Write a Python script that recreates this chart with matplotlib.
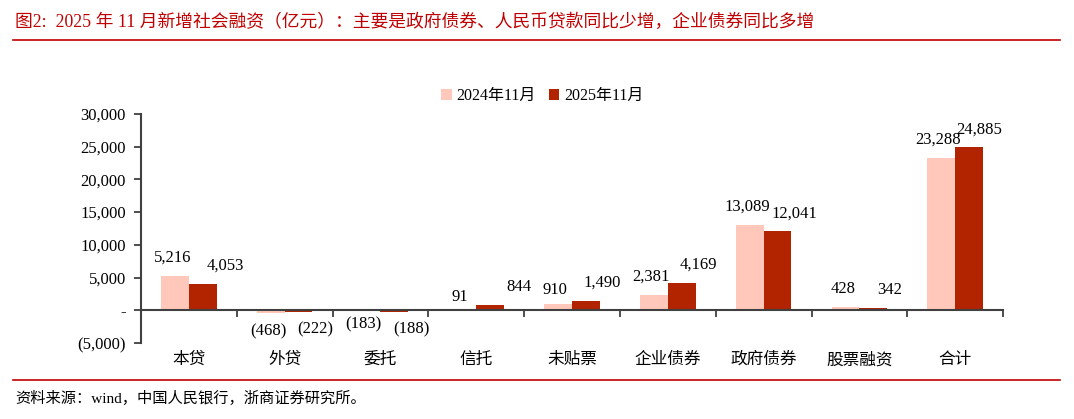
import matplotlib
matplotlib.use("Agg")
import matplotlib.pyplot as plt
import numpy as np
from matplotlib.lines import Line2D
from matplotlib.ticker import FuncFormatter

plt.rcParams['font.family'] = ['Liberation Serif', 'Noto Sans CJK SC', 'DejaVu Sans']
plt.rcParams['axes.unicode_minus'] = False

# data (亿元)
categories = ["本贷", "外贷", "委托", "信托", "未贴票", "企业债券", "政府债券", "股票融资", "合计"]
series_names = ["2024年11月", "2025年11月"]
values_2024 = [5216, -468, -183, 91, 910, 2381, 13089, 428, 23288]
values_2025 = [4053, -222, -188, 844, 1490, 4169, 12041, 342, 24885]

title = "图2:  2025 年 11 月新增社会融资（亿元）：主要是政府债券、人民币贷款同比少增，企业债券同比多增"
source = "资料来源：wind，中国人民银行，浙商证券研究所。"

c_light = "#FFC8BA"
c_dark = "#B22400"
c_red = "#C00000"
axis_col = "#404040"

fig = plt.figure(figsize=(10.74, 4.19), dpi=100)
ax = fig.add_axes([0.1313, 0.1814, 0.8027, 0.5466])

x = np.arange(len(categories))
w = 0.29
b1 = ax.bar(x - w / 2, values_2024, w, color=c_light, label=series_names[0])
b2 = ax.bar(x + w / 2, values_2025, w, color=c_dark, label=series_names[1])

ax.set_xlim(-0.5, len(categories) - 0.5)
ax.set_ylim(-5000, 30000)
ax.set_yticks(np.arange(-5000, 30001, 5000))


def fmt(v, pos=None):
    if v == 0:
        return "-"
    if v < 0:
        return "({:,.0f})".format(-v)
    return "{:,.0f}".format(v)


ax.yaxis.set_major_formatter(FuncFormatter(fmt))
ax.tick_params(axis='y', direction='out', length=5, width=1.3, color=axis_col,
               labelsize=12, pad=6)

# x axis at zero, ticks at category boundaries
for s in ['top', 'right']:
    ax.spines[s].set_visible(False)
ax.spines['bottom'].set_position(('data', 0))
ax.spines['bottom'].set_color(axis_col)
ax.spines['bottom'].set_linewidth(1.5)
ax.spines['left'].set_color(axis_col)
ax.spines['left'].set_linewidth(1.5)
ax.set_xticks(np.arange(0.5, len(categories), 1.0))
ax.set_xticklabels([])
ax.tick_params(axis='x', direction='out', length=5, width=1.3, color=axis_col)

for i, cat in enumerate(categories):
    ax.text(i, -0.075, cat, transform=ax.get_xaxis_transform(), ha='center',
            va='center', fontsize=12)

# data labels: dark labels sit to the right of their bars, as in the source chart
extra_dy = {(0, 2): 4, (0, 3): -4, (0, 4): -3}
extra_dx = {(1, 0): 4, (1, 3): 9, (1, 8): -5}
for k, (bars, vals) in enumerate([(b1, values_2024), (b2, values_2025)]):
    dx = -2 if k == 0 else 12
    for i, (bar, v) in enumerate(zip(bars, vals)):
        cx = bar.get_x() + bar.get_width() / 2
        dy = 13 if v >= 0 else -13
        dy += extra_dy.get((k, i), 0)
        ax.annotate(fmt(v), (cx, v), xytext=(dx + extra_dx.get((k, i), 0), dy),
                    textcoords='offset points', ha='center', va='center', fontsize=12)

ax.legend(loc='center', bbox_to_anchor=(0.505, 0.771), bbox_transform=fig.transFigure,
          ncol=2, frameon=False, fontsize=11.5, handlelength=0.65, handleheight=0.65,
          handletextpad=0.3, columnspacing=0.8)

fig.text(0.014, 0.947, title, color=c_red, fontsize=12.8, ha='left', va='center')
fig.add_artist(Line2D([0.012, 0.987], [0.905, 0.905], color=c_red, lw=1.2))
fig.add_artist(Line2D([0.012, 0.987], [0.093, 0.093], color=c_red, lw=1.2))
fig.text(0.014, 0.05, source, fontsize=11, ha='left', va='center')

fig.savefig("out.png", dpi=100)
